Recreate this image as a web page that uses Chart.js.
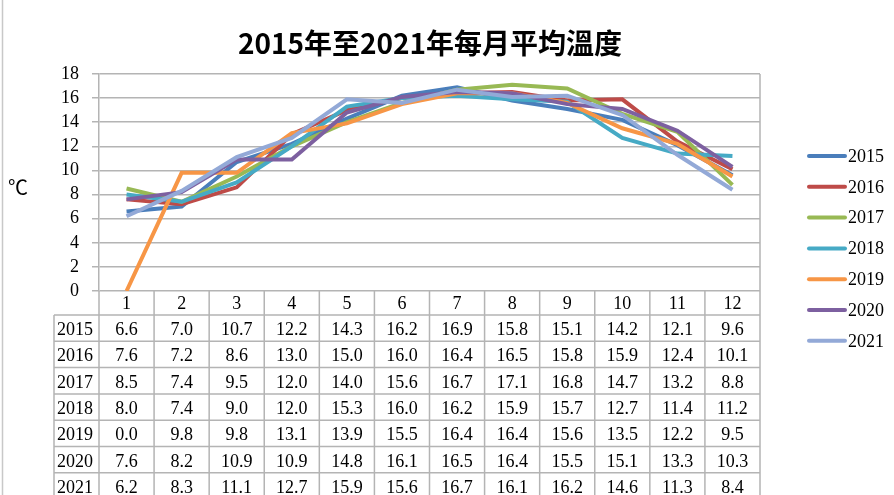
<!DOCTYPE html>
<html>
<head>
<meta charset="utf-8">
<script src="https://cdn.jsdelivr.net/npm/chart.js@4"></script>
<style>
  body { margin: 0; background: #fff; }
  canvas { display: block; }
</style>
</head>
<body>
<canvas id="tempChart" width="894" height="495"></canvas>
<script>
// 2015年至2021年每月平均溫度
const months = ['1', '2', '3', '4', '5', '6', '7', '8', '9', '10', '11', '12'];
const years = ['2015', '2016', '2017', '2018', '2019', '2020', '2021'];
const yTicks = [0, 2, 4, 6, 8, 10, 12, 14, 16, 18];

const t2015 = [6.6, 7.0, 10.7, 12.2, 14.3, 16.2, 16.9, 15.8, 15.1, 14.2, 12.1, 9.6];
const t2016 = [7.6, 7.2, 8.6, 13.0, 15.0, 16.0, 16.4, 16.5, 15.8, 15.9, 12.4, 10.1];
const t2017 = [8.5, 7.4, 9.5, 12.0, 14.0, 15.6, 16.7, 17.1, 16.8, 14.7, 13.2, 8.8];
const t2018 = [8.0, 7.4, 9.0, 12.0, 15.3, 16.0, 16.2, 15.9, 15.7, 12.7, 11.4, 11.2];
const t2019 = [0.0, 9.8, 9.8, 13.1, 13.9, 15.5, 16.4, 16.4, 15.6, 13.5, 12.2, 9.5];
const t2020 = [7.6, 8.2, 10.9, 10.9, 14.8, 16.1, 16.5, 16.4, 15.5, 15.1, 13.3, 10.3];
const t2021 = [6.2, 8.3, 11.1, 12.7, 15.9, 15.6, 16.7, 16.1, 16.2, 14.6, 11.3, 8.4];

const series = [t2015, t2016, t2017, t2018, t2019, t2020, t2021];
const colors = ['#4a7ebb', '#be4b48', '#98b954', '#46aac5', '#f79646', '#7d60a0', '#93a9d7'];

const serif = '"Liberation Serif", "Times New Roman", serif';
const cjk = '"Noto Sans CJK TC", "Noto Sans", sans-serif';
const lineGray = '#b4b4b4';

// 標題、單位、圖例、資料表
const tablePlugin = {
  id: 'tablePlugin',
  afterDraw(chart) {
    const ctx = chart.ctx;
    const area = chart.chartArea;
    const x = chart.scales.x;
    const half = (x.getPixelForValue(1) - x.getPixelForValue(0)) / 2;
    const H = chart.height;
    const headBottom = area.bottom + 24;
    const rowH = 26.3;
    const tableLeft = 54;

    ctx.save();

    // 左側外框
    ctx.strokeStyle = '#c8c8c8';
    ctx.lineWidth = 1.5;
    ctx.beginPath();
    ctx.moveTo(2.5, 0); ctx.lineTo(2.5, H);
    ctx.stroke();

    // 標題
    ctx.fillStyle = '#000';
    ctx.font = 'bold 28px ' + cjk;
    ctx.textAlign = 'center';
    ctx.textBaseline = 'alphabetic';
    ctx.fillText('2015年至2021年每月平均溫度', 430, 54);

    // 單位
    ctx.font = '20px ' + cjk;
    ctx.textAlign = 'left';
    ctx.textBaseline = 'middle';
    ctx.fillText('℃', 8, 187);

    // 表格線
    ctx.strokeStyle = lineGray;
    ctx.lineWidth = 1.5;
    ctx.beginPath();
    ctx.moveTo(area.right, area.top); ctx.lineTo(area.right, H);
    ctx.moveTo(area.left, area.bottom); ctx.lineTo(area.left, H);
    for (let i = 0; i < months.length; i++) {
      const bx = x.getPixelForValue(i) + half;
      ctx.moveTo(bx, area.bottom); ctx.lineTo(bx, H);
    }
    ctx.moveTo(tableLeft, headBottom); ctx.lineTo(tableLeft, H);
    for (let r = 0; r <= years.length; r++) {
      const y = headBottom + r * rowH;
      ctx.moveTo(tableLeft, y); ctx.lineTo(area.right, y);
    }
    ctx.stroke();

    // 表格文字
    ctx.fillStyle = '#000';
    ctx.font = '18px ' + serif;
    ctx.textBaseline = 'alphabetic';
    years.forEach((yr, r) => {
      const base = headBottom + r * rowH + 20;
      ctx.textAlign = 'left';
      ctx.fillText(yr, tableLeft + 3, base);
      ctx.textAlign = 'center';
      series[r].forEach((v, i) => {
        ctx.fillText(v.toFixed(1), x.getPixelForValue(i), base);
      });
    });

    // 圖例
    ctx.lineCap = 'round';
    ctx.lineWidth = 4;
    ctx.textAlign = 'left';
    ctx.textBaseline = 'middle';
    chart.data.datasets.forEach((ds, i) => {
      const y = 156 + i * 30.8;
      ctx.strokeStyle = ds.borderColor;
      ctx.beginPath();
      ctx.moveTo(809, y); ctx.lineTo(845, y);
      ctx.stroke();
      ctx.fillStyle = '#000';
      ctx.fillText(ds.label, 848, y + 1);
    });

    ctx.restore();
  }
};

new Chart(document.getElementById('tempChart'), {
  type: 'line',
  data: {
    labels: months,
    datasets: years.map((yr, i) => ({
      label: yr,
      data: series[i],
      borderColor: colors[i],
      backgroundColor: colors[i],
      borderWidth: 4,
      pointRadius: 0,
      tension: 0,
      order: years.length - i
    }))
  },
  options: {
    responsive: false,
    animation: false,
    layout: { padding: { top: 74, left: 39, right: 134, bottom: 0 } },
    plugins: {
      legend: { display: false },
      title: { display: false },
      tooltip: { enabled: false }
    },
    scales: {
      x: {
        type: 'category',
        offset: true,
        grid: { display: true, drawOnChartArea: false, drawTicks: false, offset: true },
        border: { display: false },
        ticks: {
          color: '#000',
          font: { family: serif, size: 18 },
          padding: 2,
          maxRotation: 0,
          autoSkip: false
        },
        afterFit(scale) { scale.height = 204; }
      },
      y: {
        min: 0,
        max: 18,
        afterBuildTicks(scale) { scale.ticks = yTicks.map(v => ({ value: v })); },
        grid: { color: lineGray, lineWidth: 1.5, tickLength: 7, tickColor: lineGray },
        border: { display: true, color: lineGray, width: 1.5 },
        ticks: {
          color: '#000',
          font: { family: serif, size: 18 },
          padding: 13,
          autoSkip: false
        },
        afterFit(scale) { scale.width = 60; }
      }
    }
  },
  plugins: [tablePlugin]
});
</script>
</body>
</html>
